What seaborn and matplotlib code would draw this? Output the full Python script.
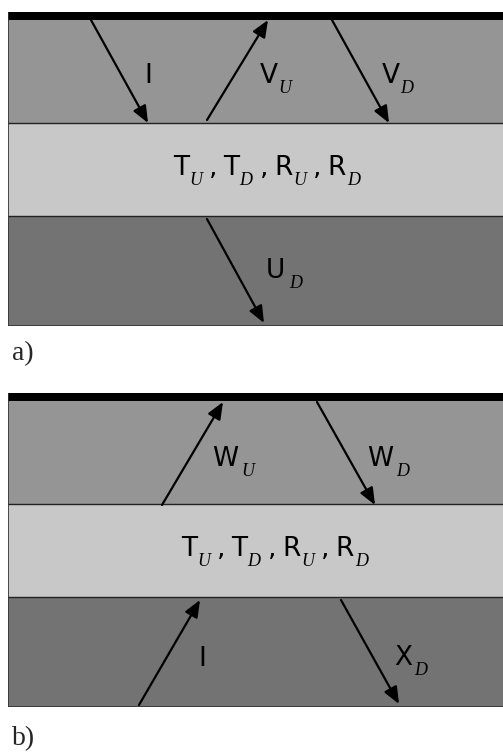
import matplotlib
matplotlib.use("Agg")
import matplotlib.pyplot as plt
import seaborn as sns

sns.set_style("white")

# layer boundaries, depth in px from the top of the free-surface bar
layer_edges = [0, 8, 111, 204, 314]
layer_colors = ["#000000", "#959595", "#c8c8c8", "#737373"]
panel_width = 495

# arrows per panel: (x0, y0, x1, y1), tip at (x1, y1)
arrows_a = [(83, 8, 140, 111), (199, 108, 260, 8), (324, 8, 381, 111), (199, 207, 256, 311)]
arrows_b = [(154, 112, 215, 9), (309, 9, 367, 112), (131, 312, 192, 207), (333, 207, 391, 311)]

# labels: main letter, subscript, left x, baseline y
labels_a = [("I", "", 136, 71), ("V", "U", 252, 71), ("V", "D", 374, 71), ("U", "D", 258, 266)]
labels_b = [("W", "U", 204, 73), ("W", "D", 359, 73), ("I", "", 190, 273), ("X", "D", 386, 272)]

mid_parts = [("T", "U"), ("T", "D"), ("R", "U"), ("R", "D")]
mid_centers = [262, 270]
mid_baseline = 163

panel_names = ["a)", "b)"]
panel_tops = [12, 393]
name_baselines = [360, 745]

W, H = 503, 753
MAIN = dict(family="DejaVu Sans", fontsize=19, color="black")
SUB = dict(family="Liberation Serif", fontsize=13, style="italic", color="black")
SUB_DROP = 10
# gap between a capital and its subscript
sub_gap = {"T": 0, "V": 0, "W": 3, "X": 2, "U": 4, "R": 1}

fig = plt.figure(figsize=(W / 100, H / 100), dpi=100)
renderer = fig.canvas.get_renderer()


def place(ax, x, y, parts):
    # parts: list of (text, kind, gap_after); returns created texts and total width
    texts = []
    cx = x
    for s, kind, gap in parts:
        if kind == "sub":
            t = ax.text(cx, y + SUB_DROP, s, ha="left", va="baseline", **SUB)
        else:
            t = ax.text(cx, y, s, ha="left", va="baseline", **MAIN)
        cx += t.get_window_extent(renderer).width + gap
        texts.append(t)
    return texts, cx - x


def draw_panel(top, arrows, labels, mid_center):
    h = layer_edges[-1]
    ax = fig.add_axes([8 / W, 1 - (top + h) / H, panel_width / W, h / H])
    ax.set_xlim(0, panel_width)
    ax.set_ylim(h, 0)
    ax.axis("off")
    for i, c in enumerate(layer_colors):
        ax.axhspan(layer_edges[i], layer_edges[i + 1], color=c, lw=0)
    for y in layer_edges[2:-1]:
        ax.axhline(y, color="#222222", lw=1.0)
    ax.plot([0, 0], [0, h], color="#333333", lw=1.2)
    ax.plot([0, panel_width], [h - 0.5, h - 0.5], color="#333333", lw=1.2)

    for x0, y0, x1, y1 in arrows:
        ax.annotate("", xy=(x1, y1), xytext=(x0, y0),
                    arrowprops=dict(arrowstyle="-|>,head_length=0.6,head_width=0.25",
                                    color="black", lw=1.6, mutation_scale=17,
                                    shrinkA=0, shrinkB=0))

    for main, sub, x, y in labels:
        parts = [(main, "main", sub_gap.get(main, 1))]
        if sub:
            parts.append((sub, "sub", 0))
        place(ax, x, y, parts)

    parts = []
    for i, (m, s) in enumerate(mid_parts):
        parts.append((m, "main", sub_gap[m]))
        parts.append((s, "sub", 7))
        if i < len(mid_parts) - 1:
            parts.append((",", "main", 6))
    texts, width = place(ax, 0, mid_baseline, parts)
    for t in texts:
        x, y = t.get_position()
        t.set_position((x + mid_center - width / 2, y))


draw_panel(panel_tops[0], arrows_a, labels_a, mid_centers[0])
draw_panel(panel_tops[1], arrows_b, labels_b, mid_centers[1])

for name, yb in zip(panel_names, name_baselines):
    fig.text(12 / W, 1 - yb / H, name, family="Liberation Serif", fontsize=20,
             ha="left", va="baseline")

fig.savefig("out.png", dpi=100)
